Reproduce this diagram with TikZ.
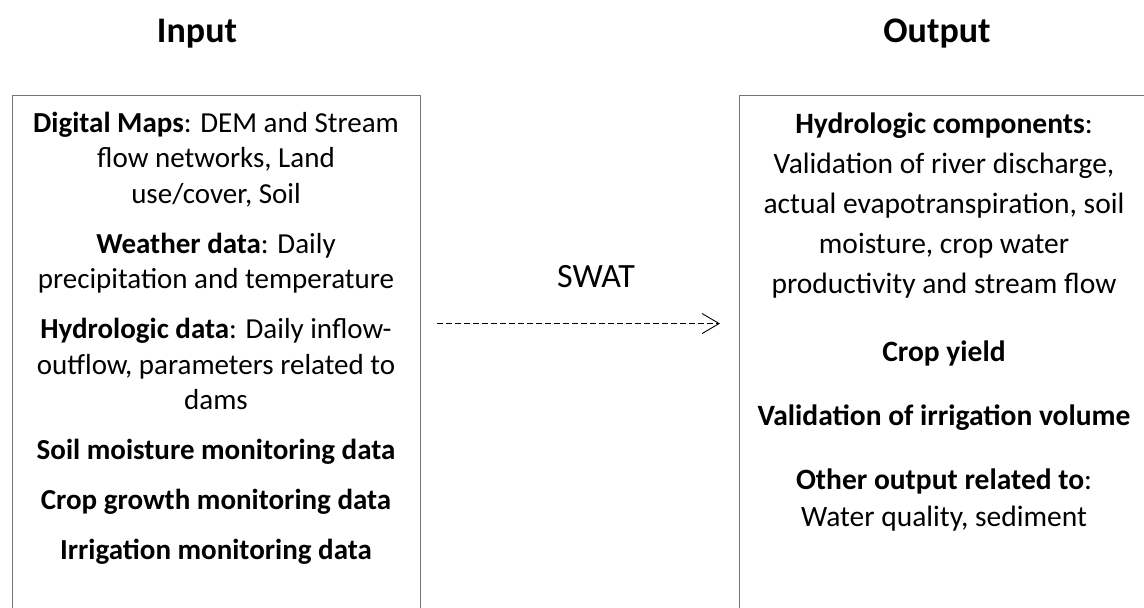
\documentclass[tikz,border=0pt]{standalone}
\usepackage{fontspec}
\setmainfont{Carlito}
\usetikzlibrary{arrows.meta}
\tikzset{
  boxframe/.style={draw=black!55, line width=1.1pt, rectangle, inner sep=0pt},
  title/.style={font=\fontsize{36}{43}\selectfont\bfseries, anchor=base, inner sep=0pt},
  body/.style={align=center, anchor=north, inner sep=0pt},
  flow/.style={dash pattern=on 6pt off 3pt, line width=0.9pt, -{Straight Barb[length=17pt,width=20pt]}}
}
\begin{document}
\begin{tikzpicture}[x=1pt,y=-1pt]
\useasboundingbox (0,0) rectangle (1144,608);
\begin{scope}
\clip (0,0) rectangle (1144,608);
\node[title] (intitle) at (197,42) {Input};
\node[title] (outtitle) at (937,42) {Output};
\node[boxframe, minimum width=408pt, minimum height=560pt, anchor=north west] (inbox) at (12,95) {};
\node[boxframe, minimum width=420pt, minimum height=560pt, anchor=north west] (outbox) at (739,95) {};
\node[body, font=\fontsize{29}{35.4}\selectfont] (intext) at (216,112) {%
\textbf{Digital Maps}: DEM and Stream\\ flow networks, Land\\ use/cover, Soil\\[14.6pt]
\textbf{Weather data}: Daily\\ precipitation and temperature\\[14.6pt]
\textbf{Hydrologic data}: Daily inflow-\\ outflow, parameters related to\\ dams\\[14.6pt]
\textbf{Soil moisture monitoring data}\\[14.6pt]
\textbf{Crop growth monitoring data}\\[14.6pt]
\textbf{Irrigation monitoring data}};
\node[body, font=\fontsize{29.5}{40}\selectfont] (outtext) at (944,113) {%
\textbf{Hydrologic components}:\\ Validation of river discharge,\\ actual evapotranspiration, soil\\ moisture, crop water\\ productivity and stream flow\\[28pt]
\textbf{Crop yield}\\[24pt]
\textbf{Validation of irrigation volume}\\[24pt]
\textbf{Other output related to}:\\[-3pt] Water quality, sediment};
\node[font=\fontsize{34}{40}\selectfont, anchor=base, inner sep=0pt] (swat) at (596,287) {SWAT};
\draw[flow] ([xshift=16pt,yshift=52pt]inbox.east) -- ([xshift=-19pt,yshift=52pt]outbox.west);
\end{scope}
\end{tikzpicture}
\end{document}
